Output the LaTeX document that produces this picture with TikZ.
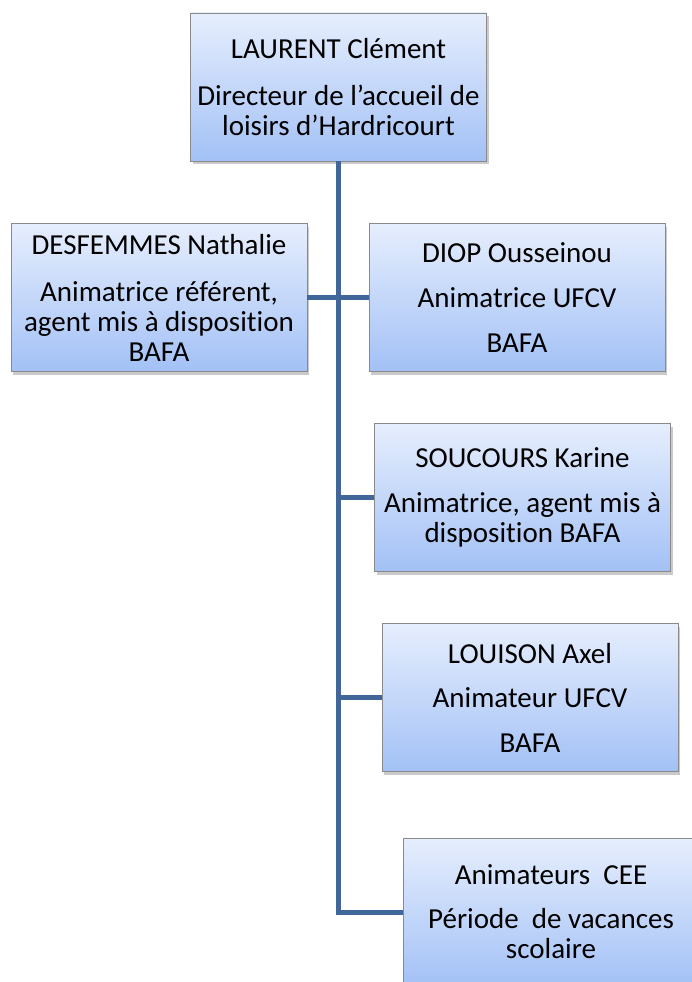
\documentclass[tikz,border=0pt]{standalone}
\usepackage{fontspec}
\setmainfont{Carlito}[RawFeature={-liga}]
\usetikzlibrary{shadows}
\definecolor{linkblue}{HTML}{41679A}
\definecolor{boxtop}{HTML}{E6EEFD}
\definecolor{boxbot}{HTML}{A3C1F6}
\definecolor{boxline}{HTML}{8A8A8A}
\tikzset{
  orgbox/.style={draw=boxline, line width=0.8pt, top color=boxtop, bottom color=boxbot,
    minimum width=296pt, minimum height=148pt, inner sep=0pt, align=center,
    font=\fontsize{29pt}{30pt}\selectfont,
    drop shadow={shadow xshift=2pt, shadow yshift=-3pt, opacity=0.35, fill=black!60}},
  link/.style={draw=linkblue, line width=5pt}
}
\begin{document}
\begin{tikzpicture}[x=1pt,y=-1pt]
\useasboundingbox (0,0) rectangle (692,982);
\node[orgbox] (dir) at (338.5,87) {LAURENT Clément\\[17pt]Directeur de l’accueil de\\loisirs d’Hardricourt};
\node[orgbox] (desf) at (159,297.5) {DESFEMMES Nathalie\\[17pt]Animatrice référent,\\agent mis à disposition\\BAFA};
\node[orgbox] (diop) at (517,297.5) {DIOP Ousseinou\\[15pt]Animatrice UFCV\\[15pt]BAFA};
\node[orgbox] (souc) at (522.5,497.5) {SOUCOURS Karine\\[15pt]Animatrice, agent mis à\\disposition BAFA};
\node[orgbox] (lou) at (530,697.5) {LOUISON Axel\\[14pt]Animateur UFCV\\[15pt]BAFA};
\node[orgbox] (cee) at (551,912) {Animateurs\ \ CEE\\[14pt]Période\ \ de vacances\\scolaire};
\coordinate (corner) at (dir.south |- cee.west);
\draw[link] (desf.east) -- (diop.west);
\draw[link] (dir.south |- souc.west) -- (souc.west);
\draw[link] (dir.south |- lou.west) -- (lou.west);
\draw[link, line join=miter] (dir.south) -- (corner) -- (cee.west);
\end{tikzpicture}
\end{document}
